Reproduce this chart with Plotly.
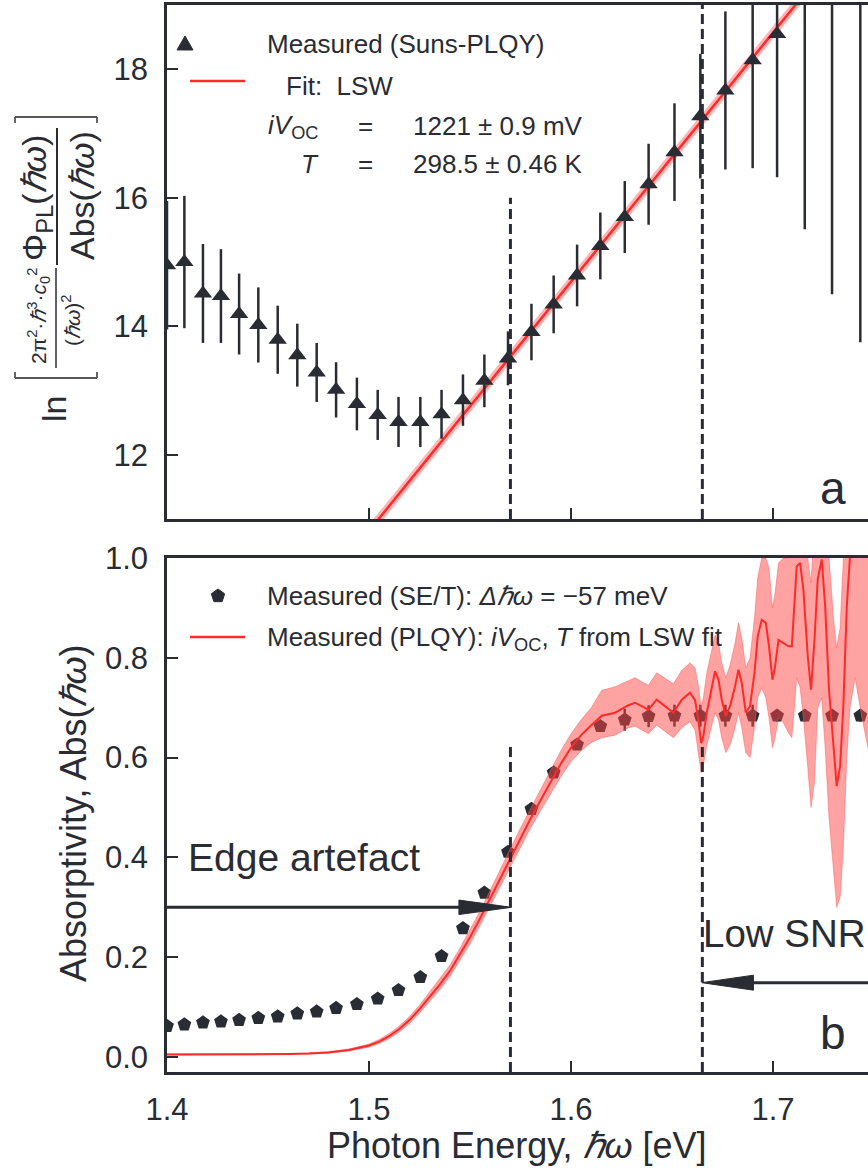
import math
import plotly.graph_objects as go

# ---------------- data ----------------
energy = [1.4000, 1.4086, 1.4178, 1.4267, 1.4357, 1.4452, 1.4548, 1.4645, 1.4741, 1.4837,
          1.4940, 1.5043, 1.5146, 1.5254, 1.5359, 1.5465, 1.5571, 1.5688, 1.5804, 1.5914,
          1.6030, 1.6145, 1.6266, 1.6384, 1.6512, 1.6640, 1.6764, 1.6899, 1.7020, 1.7157,
          1.7292, 1.7432]

# panel a : ln[...] from Suns-PLQY
suns_val = [14.95, 15.00, 14.51, 14.47, 14.19, 14.02, 13.79, 13.55, 13.28, 13.01,
            12.79, 12.62, 12.51, 12.51, 12.63, 12.85, 13.15, 13.50, 13.91, 14.34,
            14.79, 15.25, 15.70, 16.21, 16.71, 17.27, 17.67, 18.14, 18.55, 19.40,
            19.80, 20.20]
suns_err = [1.00, 1.03, 0.77, 0.73, 0.63, 0.585, 0.53, 0.49, 0.46, 0.43,
            0.41, 0.39, 0.39, 0.39, 0.38, 0.40, 0.41, 0.42, 0.44, 0.45,
            0.48, 0.52, 0.56, 0.63, 0.76, 0.97, 1.23, 1.68, 2.23, 3.89,
            5.30, 6.45]

# LSW fit line (end points)
fit_x = [1.480, 1.750]
fit_y = [10.04, 20.51]

# panel b : absorptivity from SE/T
se_abs = [0.062, 0.065, 0.069, 0.071, 0.074, 0.078, 0.081, 0.087, 0.091, 0.098,
          0.106, 0.117, 0.134, 0.160, 0.202, 0.258, 0.329, 0.411, 0.497, 0.570,
          0.626, 0.663, 0.676, 0.683, 0.684, 0.684, 0.684, 0.684, 0.684, 0.684,
          0.684, 0.684]
se_err = [0, 0, 0, 0, 0, 0, 0, 0, 0, 0,
          0, 0, 0, 0, 0, 0, 0, 0, 0, 0,
          0.005, 0.010, 0.022, 0.022, 0.022, 0.022, 0.022, 0.022, 0.012, 0.012,
          0.012, 0.012]

# panel b : absorptivity from PLQY (iVoc, T from LSW fit) with uncertainty band
plqy_x = [1.400, 1.420, 1.440, 1.460, 1.470, 1.480, 1.490, 1.500, 1.505, 1.510,
          1.515, 1.520, 1.525, 1.530, 1.535, 1.540, 1.545, 1.550, 1.555, 1.560,
          1.565, 1.570, 1.575, 1.580, 1.585, 1.590, 1.595, 1.600, 1.605, 1.610,
          1.6152, 1.6218, 1.6284, 1.6317, 1.6350, 1.6383, 1.6424, 1.6465, 1.6507, 1.6548,
          1.6589, 1.6614, 1.6630, 1.6644, 1.6655, 1.6672, 1.6697, 1.6713, 1.6730, 1.6746,
          1.6766, 1.6787, 1.6812, 1.6829, 1.6845, 1.6865, 1.6886, 1.6908, 1.6924, 1.6944,
          1.6964, 1.6980, 1.6997, 1.7010, 1.7027, 1.7051, 1.7076, 1.7093, 1.7106, 1.7117,
          1.7134, 1.7150, 1.7172, 1.7188, 1.7205, 1.7221, 1.7241, 1.7258, 1.7277, 1.7299,
          1.7315, 1.7332, 1.7348, 1.7365, 1.7381, 1.7406, 1.7440, 1.7470]
plqy_abs = [0.005, 0.005, 0.005, 0.006, 0.007, 0.009, 0.014, 0.023, 0.031, 0.042,
            0.056, 0.074, 0.096, 0.120, 0.145, 0.172, 0.205, 0.240, 0.278, 0.318,
            0.360, 0.400, 0.440, 0.478, 0.515, 0.550, 0.588, 0.620, 0.645, 0.665,
            0.684, 0.690, 0.705, 0.710, 0.703, 0.696, 0.716, 0.703, 0.690, 0.716,
            0.730, 0.715, 0.676, 0.629, 0.643, 0.690, 0.743, 0.773, 0.756, 0.716,
            0.683, 0.703, 0.743, 0.776, 0.750, 0.690, 0.703, 0.770, 0.843, 0.876,
            0.870, 0.823, 0.756, 0.783, 0.836, 0.830, 0.823, 0.823, 0.903, 0.983,
            0.990, 0.937, 0.803, 0.736, 0.836, 0.957, 0.997, 0.903, 0.736, 0.623,
            0.543, 0.583, 0.703, 0.903, 1.003, 1.100, 1.080, 1.050]
plqy_lo = [0.004, 0.004, 0.004, 0.005, 0.006, 0.008, 0.012, 0.020, 0.027, 0.037,
           0.050, 0.067, 0.088, 0.111, 0.135, 0.161, 0.193, 0.227, 0.264, 0.303,
           0.344, 0.383, 0.422, 0.459, 0.494, 0.527, 0.562, 0.592, 0.614, 0.630,
           0.640, 0.645, 0.660, 0.663, 0.655, 0.648, 0.665, 0.652, 0.640, 0.660,
           0.672, 0.655, 0.610, 0.570, 0.585, 0.625, 0.665, 0.690, 0.675, 0.640,
           0.610, 0.625, 0.660, 0.690, 0.660, 0.610, 0.600, 0.660, 0.720, 0.740,
           0.720, 0.680, 0.620, 0.640, 0.680, 0.670, 0.650, 0.640, 0.700, 0.760,
           0.740, 0.680, 0.580, 0.500, 0.550, 0.700, 0.720, 0.620, 0.480, 0.380,
           0.300, 0.320, 0.420, 0.600, 0.700, 0.760, 0.680, 0.620]
plqy_hi = [0.006, 0.006, 0.006, 0.007, 0.008, 0.011, 0.016, 0.026, 0.035, 0.047,
           0.062, 0.081, 0.104, 0.130, 0.156, 0.184, 0.218, 0.254, 0.293, 0.334,
           0.377, 0.418, 0.459, 0.498, 0.537, 0.574, 0.614, 0.648, 0.676, 0.700,
           0.735, 0.742, 0.755, 0.760, 0.752, 0.745, 0.770, 0.760, 0.748, 0.775,
           0.790, 0.780, 0.745, 0.700, 0.720, 0.770, 0.820, 0.845, 0.830, 0.790,
           0.760, 0.785, 0.830, 0.870, 0.840, 0.780, 0.800, 0.880, 0.960, 1.000,
           1.000, 0.980, 0.900, 0.930, 0.990, 1.000, 1.000, 1.020, 1.080, 1.150,
           1.180, 1.150, 1.000, 0.950, 1.080, 1.200, 1.250, 1.180, 1.000, 0.880,
           0.820, 0.860, 1.000, 1.200, 1.300, 1.400, 1.400, 1.400]

x_ticks = [1.4, 1.5, 1.6, 1.7]
x_tick_text = ["1.4", "1.5", "1.6", "1.7"]
ya_ticks = [12, 14, 16, 18]
yb_ticks = [0.0, 0.2, 0.4, 0.6, 0.8, 1.0]
yb_tick_text = ["0.0", "0.2", "0.4", "0.6", "0.8", "1.0"]

edge_limit = 1.57      # dashed line, edge artefact
snr_limit = 1.665      # dashed line, low SNR

# ---------------- styling ----------------
FONT = "Liberation Sans, Arial, Helvetica, sans-serif"
DARK = "#2a2c33"
RED = "#ff2a2a"
BAND = "rgba(255,70,70,0.50)"
W, H = 868, 1168
L, R, T, B = 167, 868, 5, 1072


def px(x):
    return (x - L) / (R - L)


def py(y):
    return (B - y) / (B - T)


fig = go.Figure()

# ---- panel a ----
fig.add_trace(go.Scatter(x=fit_x, y=fit_y, mode="lines", xaxis="x", yaxis="y",
                         line=dict(color="rgba(255,90,90,0.45)", width=8), hoverinfo="skip"))
fig.add_trace(go.Scatter(x=fit_x, y=fit_y, mode="lines", xaxis="x", yaxis="y",
                         line=dict(color=RED, width=2.5)))
fig.add_trace(go.Scatter(x=energy, y=suns_val, mode="markers", xaxis="x", yaxis="y",
                         marker=dict(symbol="triangle-up", size=16, color=DARK),
                         error_y=dict(type="data", array=suns_err, thickness=2.5,
                                      width=0, color=DARK)))

# ---- panel b ----
fig.add_trace(go.Scatter(x=energy, y=se_abs, mode="markers", xaxis="x2", yaxis="y2",
                         marker=dict(symbol="pentagon", size=14.5, color=DARK),
                         error_y=dict(type="data", array=se_err, thickness=2.5,
                                      width=0, color=DARK)))
fig.add_trace(go.Scatter(x=plqy_x, y=plqy_lo, mode="lines", xaxis="x2", yaxis="y2",
                         line=dict(color="rgba(255,90,90,0.6)", width=0.8), hoverinfo="skip"))
fig.add_trace(go.Scatter(x=plqy_x, y=plqy_hi, mode="lines", xaxis="x2", yaxis="y2",
                         fill="tonexty", fillcolor=BAND,
                         line=dict(color="rgba(255,90,90,0.6)", width=0.8), hoverinfo="skip"))
fig.add_trace(go.Scatter(x=plqy_x, y=plqy_abs, mode="lines", xaxis="x2", yaxis="y2",
                         line=dict(color=RED, width=2)))

axis_common = dict(showline=True, linewidth=2.5, linecolor=DARK, ticks="inside",
                   ticklen=11, tickwidth=2, tickcolor=DARK, showgrid=False,
                   zeroline=False, automargin=False,
                   tickfont=dict(size=31, color=DARK, family=FONT))

fig.update_layout(
    template="none",
    width=W, height=H,
    margin=dict(l=L, r=0, t=T, b=H - B, autoexpand=False),
    paper_bgcolor="white", plot_bgcolor="white",
    showlegend=False,
    font=dict(family=FONT, color=DARK),
    xaxis=dict(axis_common, domain=[0, 1], anchor="y", range=[1.4, 1.747],
               tickvals=[1.5, 1.6, 1.7], showticklabels=False, mirror=True),
    yaxis=dict(axis_common, domain=[py(519), 1], anchor="x", range=[11, 19],
               tickvals=ya_ticks, ticklabelstandoff=10),
    xaxis2=dict(axis_common, domain=[0, 1], anchor="y2", range=[1.4, 1.747],
                tickvals=x_ticks, ticktext=x_tick_text, mirror=True,
                ticklabelstandoff=8),
    yaxis2=dict(axis_common, domain=[0, py(558)], anchor="x2", range=[-0.03, 1.0],
                tickvals=yb_ticks, ticktext=yb_tick_text, ticklabelstandoff=10),
)

shapes = []
dash = "10px,5px"
DW = 3
# dashed limit lines
shapes.append(dict(type="line", xref="x", yref="y", x0=edge_limit, x1=edge_limit, y0=11, y1=16.0,
                   line=dict(color=DARK, width=DW, dash=dash)))
shapes.append(dict(type="line", xref="x", yref="y", x0=snr_limit, x1=snr_limit, y0=11, y1=19,
                   line=dict(color=DARK, width=DW, dash=dash)))
shapes.append(dict(type="line", xref="x2", yref="y2", x0=edge_limit, x1=edge_limit, y0=-0.03, y1=0.625,
                   line=dict(color=DARK, width=DW, dash=dash)))
shapes.append(dict(type="line", xref="x2", yref="y2", x0=snr_limit, x1=snr_limit, y0=-0.03, y1=0.625,
                   line=dict(color=DARK, width=DW, dash=dash)))
# edge artefact arrow ->
shapes.append(dict(type="line", xref="x2", yref="y2", x0=1.4, x1=1.548, y0=0.30, y1=0.30,
                   line=dict(color=DARK, width=3)))
shapes.append(dict(type="path", xref="x2", yref="y2",
                   path="M 1.5445 0.3145 L 1.5705 0.300 L 1.5445 0.2855 Z",
                   fillcolor=DARK, line=dict(color=DARK, width=1)))
# low SNR arrow <-
shapes.append(dict(type="line", xref="x2", yref="y2", x0=1.687, x1=1.76, y0=0.149, y1=0.149,
                   line=dict(color=DARK, width=3)))
shapes.append(dict(type="path", xref="x2", yref="y2",
                   path="M 1.6903 0.1640 L 1.6647 0.149 L 1.6903 0.1340 Z",
                   fillcolor=DARK, line=dict(color=DARK, width=1)))


def ppath(points):
    return "M " + " L ".join(f"{px(a):.5f} {py(b):.5f}" for a, b in points) + " Z"


# legend keys (panel a)
shapes.append(dict(type="path", xref="paper", yref="paper",
                   path=ppath([(177, 50), (193, 50), (185, 36)]),
                   fillcolor=DARK, line=dict(color=DARK, width=1)))
shapes.append(dict(type="line", xref="paper", yref="paper", x0=px(190), x1=px(245),
                   y0=py(81), y1=py(81), line=dict(color=RED, width=2.5)))
# legend keys (panel b)
pent = [(218 + 7 * math.sin(2 * math.pi * k / 5), 596 - 7 * math.cos(2 * math.pi * k / 5)) for k in range(5)]
shapes.append(dict(type="path", xref="paper", yref="paper", path=ppath(pent),
                   fillcolor=DARK, line=dict(color=DARK, width=1)))
shapes.append(dict(type="line", xref="paper", yref="paper", x0=px(190), x1=px(245),
                   y0=py(637), y1=py(637), line=dict(color=RED, width=2.5)))

# y-title brackets and fraction bars (panel a)
GRAY = "#55575c"
for yb, d in ((378, -6), (117, 6)):
    shapes.append(dict(type="line", xref="paper", yref="paper", x0=px(15), x1=px(97),
                       y0=py(yb), y1=py(yb), line=dict(color=GRAY, width=1.8)))
    for xb in (15, 97):
        shapes.append(dict(type="line", xref="paper", yref="paper", x0=px(xb), x1=px(xb),
                           y0=py(yb), y1=py(yb + d), line=dict(color=GRAY, width=1.8)))
shapes.append(dict(type="line", xref="paper", yref="paper", x0=px(56), x1=px(56),
                   y0=py(268), y1=py(368), line=dict(color=DARK, width=1.5)))
shapes.append(dict(type="line", xref="paper", yref="paper", x0=px(57), x1=px(57),
                   y0=py(128), y1=py(265), line=dict(color=DARK, width=2)))

fig.update_layout(shapes=shapes)

ann = []


def text(x, y, s, size, xanchor="left", yanchor="middle", angle=0, color=DARK):
    ann.append(dict(x=px(x), y=py(y), xref="paper", yref="paper", text=s, showarrow=False,
                    xanchor=xanchor, yanchor=yanchor, textangle=angle,
                    font=dict(size=size, color=color, family=FONT)))


LEG = 26
text(265, 44, "Measured (Suns-PLQY)", LEG)
text(284, 86, "Fit:\u00a0\u00a0LSW", LEG)
text(266, 126, "<i>iV</i><sub>OC</sub>", LEG)
text(365, 126, "=", LEG, xanchor="center")
text(411, 126, "1221 \u00b1 0.9 mV", LEG)
text(310, 164, "<i>T</i>", LEG, xanchor="center")
text(365, 164, "=", LEG, xanchor="center")
text(411, 164, "298.5 \u00b1 0.46 K", LEG)

text(265, 596, "Measured (SE/T): <i>\u0394\u210f\u03c9</i> = \u221257 meV", LEG)
text(265, 639, "Measured (PLQY): <i>iV</i><sub>OC</sub>, <i>T</i> from LSW fit", LEG)

text(186, 857, "Edge artefact", 39)
text(701, 933, "Low SNR", 38.5)
text(833, 488, "a", 46, xanchor="center")
text(833, 1033, "b", 46, xanchor="center")

# axis titles
text(517, 1145, "Photon Energy, <i>\u210f\u03c9</i> [eV]", 36, xanchor="center")
text(73, 814, "Absorptivity, Abs(<i>\u210f\u03c9</i>)", 36, xanchor="center", angle=-90)
text(54, 409, "ln", 34, xanchor="center", angle=-90)
text(38, 316, "2\u03c0<sup>2</sup>\u00b7<i>\u210f</i><sup>3</sup>\u00b7<i>c</i><sub>0</sub><sup>2</sup>", 21,
     xanchor="center", angle=-90)
text(71, 320, "(<i>\u210f\u03c9</i>)<sup>2</sup>", 21, xanchor="center", angle=-90)
text(37, 198, "\u03a6<sub>PL</sub>(<i>\u210f\u03c9</i>)", 34, xanchor="center", angle=-90)
text(82, 196, "Abs(<i>\u210f\u03c9</i>)", 34, xanchor="center", angle=-90)

fig.update_layout(annotations=ann)

fig.write_html("out.html", config={"displayModeBar": False},
               post_script="document.body.style.margin='0px';")
